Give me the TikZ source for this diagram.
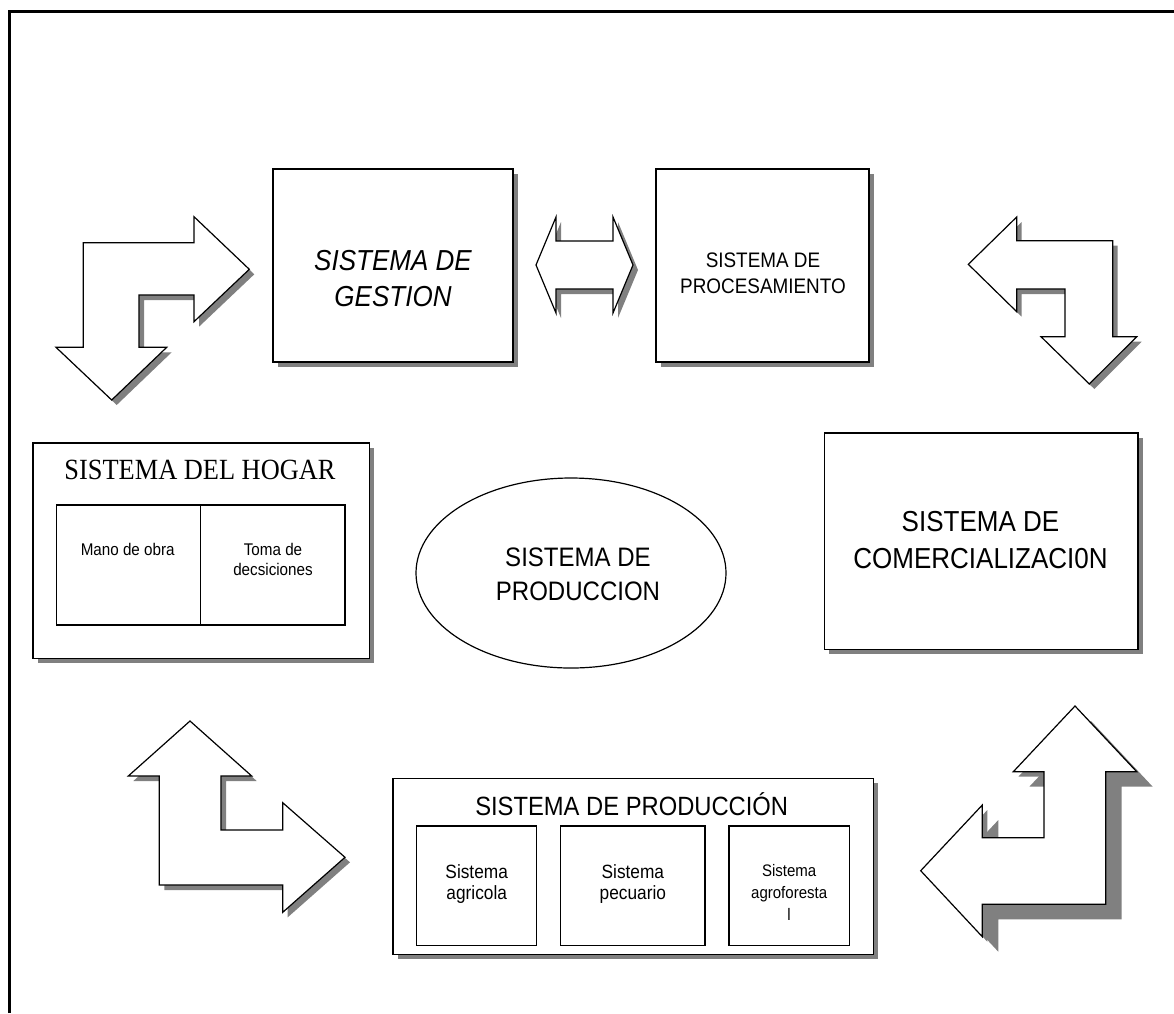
\documentclass[tikz,border=0pt]{standalone}
\usepackage{fontspec}
\setmainfont[FakeStretch=0.9]{Liberation Sans}
\newfontfamily\titleserif[FakeStretch=0.9]{Liberation Serif}
\usetikzlibrary{shadows,shapes.geometric}

\definecolor{shade}{HTML}{808080}

\begin{document}
\begin{tikzpicture}[x=1pt,y=-1pt,
  sysbox/.style={draw, line width=1.6pt, fill=white, rectangle, inner sep=0pt,
    drop shadow={shadow xshift=5pt, shadow yshift=-5pt, fill=shade, opacity=1}},
  subbox/.style={draw, line width=1.5pt, fill=white, rectangle, inner sep=0pt},
  blockarrow/.style={draw, line width=1.2pt, fill=white, line join=miter,
    drop shadow={shadow xshift=5pt, shadow yshift=-5pt, fill=shade, opacity=1}},
  bigshadow/.style={drop shadow={shadow xshift=16pt, shadow yshift=-15pt, fill=shade, opacity=1}},
  label/.style={align=center, inner sep=0pt},
]
\useasboundingbox (0,0) rectangle (1174,1013);

% page frame
\draw[line width=3pt] (9,1013) -- (9,11) -- (1174,11);

% upper systems
\node[sysbox, minimum width=240pt, minimum height=193pt] (gestion) at (393,265.5) {};
\node[label, font=\fontsize{28.9}{36}\selectfont\itshape] (gestiontxt) at (393,278.4) {SISTEMA DE\\GESTION};

\node[sysbox, minimum width=213pt, minimum height=193pt] (proces) at (762.5,265.3) {};
\node[label, font=\fontsize{21}{25.5}\selectfont] (procestxt) at (763,273.5) {SISTEMA DE\\PROCESAMIENTO};

% double arrow between management and processing
\path[blockarrow] (536,265) -- (556,217) -- (556,241) -- (613,241) -- (613,217)
  -- (633,265) -- (613,313) -- (613,289) -- (556,289) -- (556,313) -- cycle;

% household system
\node[sysbox, minimum width=336.6pt, minimum height=215.6pt] (hogar) at (201,550.5) {};
\node[inner sep=0pt, anchor=base, font=\titleserif\fontsize{29.3}{34}\selectfont] (hogartxt) at (200,479.3) {SISTEMA DEL HOGAR};
\node[subbox, minimum width=144pt, minimum height=120pt] (mano) at (128.7,565) {};
\node[subbox, minimum width=144.3pt, minimum height=120pt] (toma) at (272.85,565) {};
\node[inner sep=0pt, anchor=base, font=\fontsize{16.9}{20}\selectfont] (manotxt) at (127.7,555) {Mano de obra};
\node[label, font=\fontsize{16.9}{20.5}\selectfont] (tomatxt) at (273,559.2) {Toma de\\decsiciones};

% production core
\node[ellipse, draw, line width=1.2pt, fill=white, minimum width=310pt, minimum height=190pt] (nucleo) at (571,573) {};
\node[label, font=\fontsize{26.7}{34}\selectfont] (nucleotxt) at (578,574) {SISTEMA DE\\PRODUCCION};

% marketing system
\node[sysbox, minimum width=313.4pt, minimum height=216.6pt] (comercial) at (981,541) {};
\node[label, font=\fontsize{28.9}{37.6}\selectfont] (comercialtxt) at (980.5,540) {SISTEMA DE\\COMERCIALIZACI0N};

% production subsystems
\node[sysbox, minimum width=480.6pt, minimum height=176pt] (prod) at (633,866.3) {};
\node[inner sep=0pt, anchor=base, font=\fontsize{26.4}{30}\selectfont] (prodtxt) at (631.7,815) {SISTEMA DE PRODUCCIÓN};
\node[subbox, minimum width=120pt, minimum height=119.7pt] (agri) at (476.7,885.85) {};
\node[subbox, minimum width=144.3pt, minimum height=119.7pt] (pecu) at (632.85,885.85) {};
\node[subbox, minimum width=120.3pt, minimum height=119.7pt] (agrof) at (789.15,885.85) {};
\node[label, font=\fontsize{19.2}{21.7}\selectfont] (agritxt) at (476.7,884) {Sistema\\agricola};
\node[label, font=\fontsize{19.2}{21.7}\selectfont] (pecutxt) at (632.85,884) {Sistema\\pecuario};
\node[label, font=\fontsize{16.7}{22}\selectfont] (agroftxt) at (789.15,892) {Sistema\\agroforesta\\l};

% bent flow arrows
\path[blockarrow] (83.3,242.7) -- (194,242.7) -- (194,216.7) -- (249.3,269.3)
  -- (194,321.7) -- (194,295) -- (139,295) -- (139,347.3) -- (166.7,347.3)
  -- (111.7,400) -- (56,347.3) -- (83.3,347.3) -- cycle;

\path[blockarrow] (1112.7,240.7) -- (1016.7,240.7) -- (1016.7,217) -- (968.3,264.3)
  -- (1016.7,311.7) -- (1016.7,289) -- (1065,289) -- (1065,336.7) -- (1041,336.7)
  -- (1089.3,384) -- (1136.7,336.7) -- (1112.7,336.7) -- cycle;

\path[blockarrow] (190,721) -- (251.7,776) -- (221,776) -- (221,830) -- (282.7,830)
  -- (282.7,802.7) -- (345,857.3) -- (282.7,912.3) -- (282.7,885) -- (159.3,885)
  -- (159.3,776) -- (128.3,776) -- cycle;

\path[blockarrow, bigshadow] (1075,706) -- (1136.7,771.7) -- (1105.7,771.7) -- (1105.7,904.3)
  -- (982.3,904.3) -- (982.3,936.7) -- (920.7,870.7) -- (982.3,805) -- (982.3,837.7)
  -- (1044,837.7) -- (1044,771.7) -- (1013.3,771.7) -- cycle;
\end{tikzpicture}
\end{document}
